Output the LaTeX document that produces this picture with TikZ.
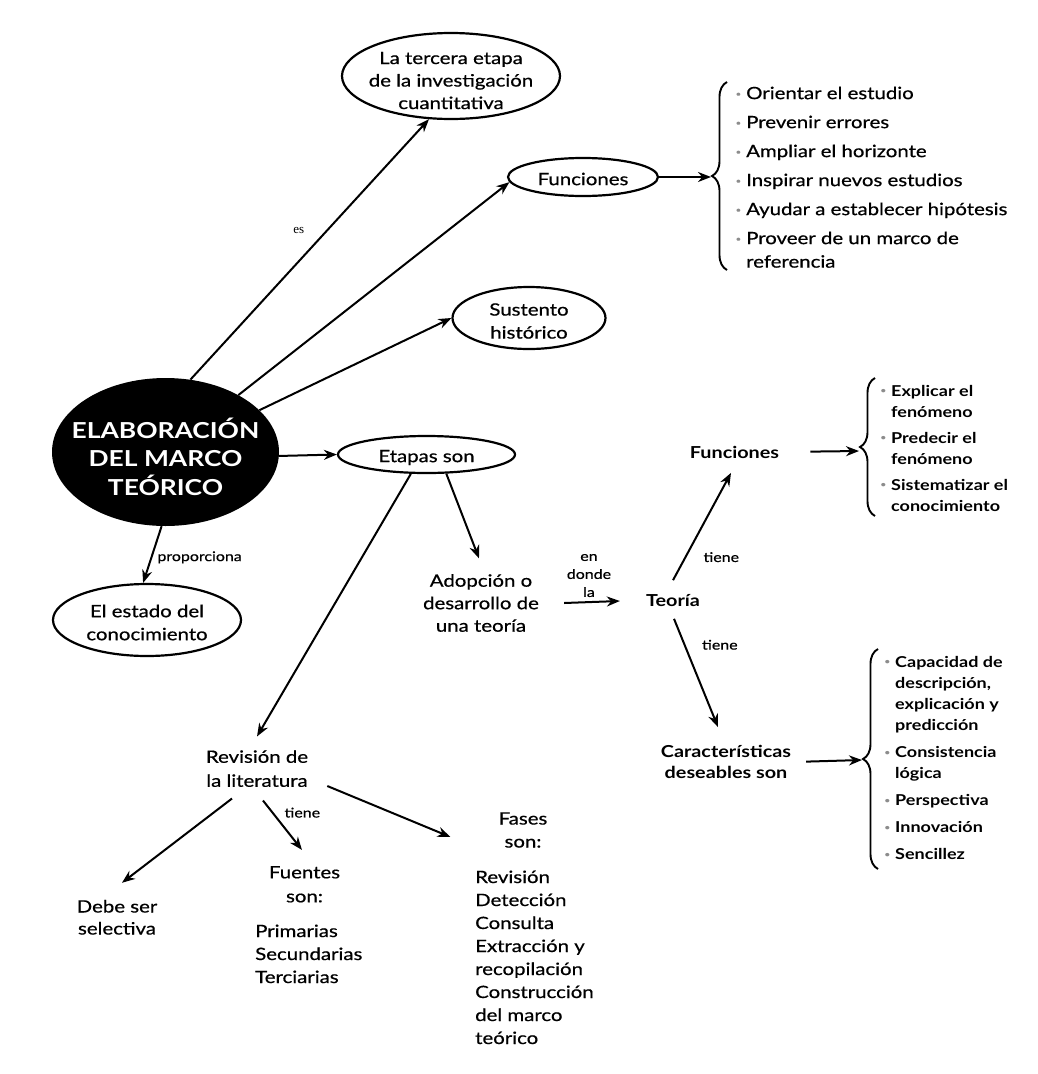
\documentclass[tikz,border=0pt]{standalone}
\usepackage{fontspec}
\setmainfont{Lato}[FakeStretch=1.2, UprightFeatures={FakeBold=0.6}]
\newfontfamily\labelserif{Liberation Serif}
\usetikzlibrary{shapes.geometric, arrows.meta, decorations.pathreplacing, positioning}
\tikzstyle{arrow} = [line width=2pt, -{Stealth[length=13pt, width=10pt]}]
\tikzstyle{hub} = [ellipse, fill=black, inner sep=0pt,
minimum width=227pt,
minimum height=148pt]
\tikzstyle{hubtext} = [align=center, inner sep=0pt, text=white,
font=\fontsize{22}{28.5}\selectfont\bfseries]
\tikzstyle{oval} = [ellipse, draw=black, line width=2.2pt, inner sep=0pt]
\tikzstyle{ovaltext} = [align=center, inner sep=0pt, font=\fontsize{17}{22.5}\selectfont]
\tikzstyle{idea} = [align=center, inner sep=2pt, font=\fontsize{17}{23}\selectfont]
\tikzstyle{heavy} = [align=center, inner sep=2pt, font=\fontsize{16.5}{21}\selectfont\bfseries]
\tikzstyle{items} = [align=left, anchor=north west, inner sep=0pt, font=\fontsize{17}{23.5}\selectfont]
\tikzstyle{tagtext} = [inner sep=1pt, font=\fontsize{13.3}{18}\selectfont]
\tikzstyle{curly} = [decorate, decoration={brace, amplitude=15pt}, line width=1.9pt]
\newcommand{\dotmark}{\llap{\raisebox{2.5pt}{\textcolor{black!45}{\fontsize{8}{8}\selectfont\textbullet}}\hspace{5pt}}}

\begin{document}
\begin{tikzpicture}[x=1pt, y=-1pt]
\useasboundingbox (0,0) rectangle (1038,1074);

% main concept and the ovals round it
\node (m)   [hub] at (165.5,452) {};
\node (mt)  [hubtext] at (165.5,456.5) {ELABORACIÓN\\DEL MARCO\\TEÓRICO};
\node (t3)  [oval, minimum width=218pt, minimum height=86pt] at (451,76) {};
\node (t3t) [ovaltext] at (451,80.5) {La tercera etapa\\de la investigación\\cuantitativa};
\node (fn1) [oval, minimum width=150pt, minimum height=38pt] at (583,177) {};
\node (fn1t)[ovaltext] at (583,179) {Funciones};
\node (sh)  [oval, minimum width=153pt, minimum height=62pt] at (529,318) {};
\node (sht) [ovaltext, font=\fontsize{17}{23}\selectfont] at (529,321) {Sustento\\histórico};
\node (et)  [oval, minimum width=177pt, minimum height=37pt] at (426.5,454.5) {};
\node (ett) [ovaltext] at (426.5,457.5) {Etapas son};
\node (ec)  [oval, minimum width=188pt, minimum height=72pt] at (147,620) {};
\node (ect) [ovaltext, font=\fontsize{17}{23}\selectfont] at (147,622.5) {El estado del\\conocimiento};

% plain text concepts
\node (ad)  [idea, font=\fontsize{17}{22.5}\selectfont] at (481,603) {Adopción o\\desarrollo de\\una teoría};
\node (te)  [heavy] at (673,601) {Teoría};
\node (fn2) [heavy] at (734.5,452) {Funciones};
\node (ch)  [heavy] at (726,762) {Características\\deseables son};
\node (rl)  [idea, font=\fontsize{17}{24}\selectfont] at (257,768.6) {Revisión de\\la literatura};
\node (ds)  [idea, font=\fontsize{17}{22}\selectfont] at (117,917.3) {Debe ser\\selectiva};
\node (fu)  [idea, font=\fontsize{17}{24}\selectfont] at (304.5,884.3) {Fuentes\\son:};
\node (fa)  [idea] at (523,830) {Fases\\son:};

% lists
\node (l1) [items] at (746,86.4) {\dotmark Orientar el estudio\\[5.5pt]
    \dotmark Prevenir errores\\[5.5pt]
    \dotmark Ampliar el horizonte\\[5.5pt]
    \dotmark Inspirar nuevos estudios\\[5.5pt]
    \dotmark Ayudar a establecer hipótesis\\[5.5pt]
    \dotmark Proveer de un marco de\\referencia};
\node (l2) [items, font=\fontsize{15}{21}\selectfont\bfseries] at (891,385.1) {\dotmark Explicar el\\fenómeno\\[5pt]
    \dotmark Predecir el\\fenómeno\\[5pt]
    \dotmark Sistematizar el\\conocimiento};
\node (l3) [items, font=\fontsize{15}{21}\selectfont\bfseries] at (895,656.1) {\dotmark Capacidad de\\descripción,\\explicación y\\predicción\\[6.5pt]
    \dotmark Consistencia\\lógica\\[6pt]
    \dotmark Perspectiva\\[6pt]
    \dotmark Innovación\\[6pt]
    \dotmark Sencillez};
\node (fl)  [items, font=\fontsize{17}{23}\selectfont] at (255,924.4) {Primarias\\Secundarias\\Terciarias};
\node (fal) [items, font=\fontsize{17}{23}\selectfont] at (475,870.4) {Revisión\\Detección\\Consulta\\Extracción y\\recopilación\\Construcción\\del marco\\teórico};

% braces
\draw [curly] (727,270) -- (727,82);
\coordinate (b1) at (711,177);
\draw [curly] (875,516) -- (875,378);
\coordinate (b2) at (859,451);
\draw [curly] (878,869) -- (878,649);
\coordinate (b3) at (862,760);

% connectors
\draw [arrow] (m.71) -- node[tagtext, pos=0.58, xshift=-30pt, yshift=-2pt, font=\fontsize{13}{15}\labelserif]{es} (t3.243);
\draw [arrow] (m.38) -- (fn1.184);
\draw [arrow] (m.24) -- (sh.west);
\draw [arrow] (m.358) -- (et.west);
\draw [arrow] (m.267) -- node[tagtext, pos=0.55, anchor=west, xshift=4pt]{proporciona} (ec.96);
\draw [arrow] (fn1.east) -- (b1);

\draw [arrow] (et.231) -- ([yshift=11.6pt]rl.north);
\draw [arrow] (et.316) -- ([xshift=-2pt, yshift=13.6pt]ad.north);
\draw [arrow] ([xshift=23pt]ad.east) -- node[tagtext, above=3pt, xshift=-3pt, align=center]{en\\donde\\la} ([xshift=-24pt]te.west);
\draw [arrow] ([yshift=12.5pt]te.north) -- node[tagtext, pos=0.215, anchor=west, xshift=16pt]{tiene} ([xshift=-3.5pt, yshift=-12.5pt]fn2.south);
\draw [arrow] ([xshift=1pt, yshift=-9.5pt]te.south) -- node[tagtext, pos=0.24, anchor=west, xshift=15.5pt]{tiene} ([xshift=-8pt, yshift=16pt]ch.north);
\draw [arrow, shorten <=29pt] (fn2.east) -- (b2);
\draw [arrow, shorten <=13pt] (ch.east) -- (b3);

\draw [arrow] ([xshift=-25pt, yshift=-9.4pt]rl.south) -- ([xshift=5pt, yshift=15pt]ds.north);
\draw [arrow] ([xshift=6pt, yshift=-11.4pt]rl.south) -- node[tagtext, pos=0.245, anchor=west, xshift=10pt]{tiene} ([xshift=-2.5pt, yshift=14pt]fu.north);
\draw [arrow] ([xshift=17pt, yshift=-17.4pt]rl.east) -- ([xshift=-46pt, yshift=-7pt]fa.west);

\end{tikzpicture}
\end{document}
